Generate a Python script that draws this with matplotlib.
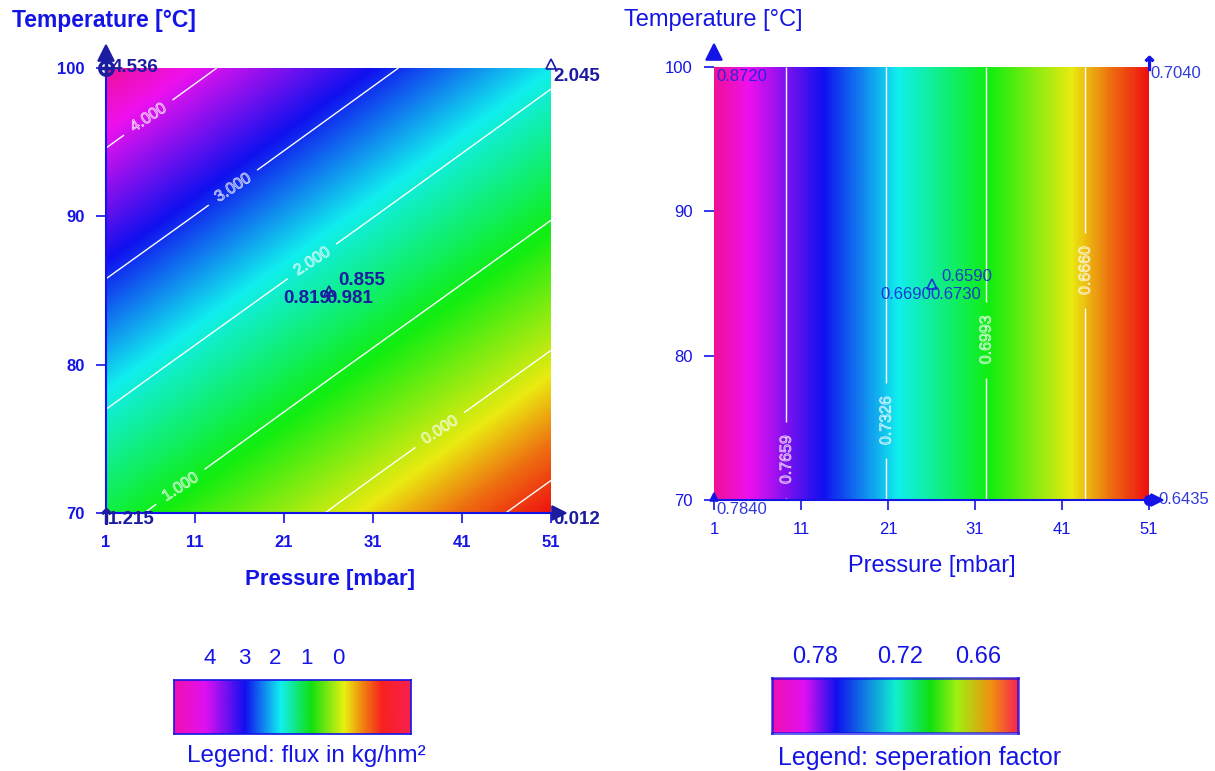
import numpy as np
import matplotlib
matplotlib.use("Agg")
import matplotlib.pyplot as plt
import matplotlib.patheffects as pe
import matplotlib.transforms as mtransforms
from matplotlib.colors import LinearSegmentedColormap

plt.rcParams['font.family'] = ['Liberation Sans', 'DejaVu Sans']

#%% data
pressure = [1, 11, 21, 31, 41, 51]      # mbar
temperature = [70, 80, 90, 100]         # °C

# model surface of the flux (kg/hm²), rows = temperature, cols = pressure
flux = np.array([
    [1.21, 0.72, 0.23, -0.27, -0.76, -1.25],
    [2.34, 1.85, 1.36, 0.87, 0.38, -0.11],
    [3.48, 2.99, 2.50, 2.01, 1.52, 1.03],
    [4.61, 4.12, 3.63, 3.14, 2.65, 2.16],
])
flux_levels = [-1, 0, 1, 2, 3, 4]

# separation factor only changes with pressure
sep_row = [0.790, 0.761, 0.732, 0.703, 0.674, 0.644]
sep = np.array([sep_row] * len(temperature))
sep_levels = [0.6660, 0.6993, 0.7326, 0.7659]

# measured points: corners + centre point
pts_P = [1, 51, 1, 51, 26, 26, 26]
pts_T = [100, 100, 70, 70, 85, 85, 85]
flux_pts = ['4.536', '2.045', '1.215', '0.012', '0.855', '0.819', '0.981']
sep_pts = ['0.8720', '0.7040', '0.7840', '0.6435', '0.6590', '0.6690', '0.6730']

flux_legend_ticks = ['4', '3', '2', '1', '0']
sep_legend_ticks = ['0.78', '0.72', '0.66']

#%% colours
BLUE = '#1414e6'
NAVY = '#1c1ca0'
cmap = LinearSegmentedColormap.from_list('rb', [
    (0.00, '#ee1111'), (0.09, '#ee7010'), (0.18, '#eaea10'), (0.37, '#10ee10'),
    (0.58, '#10eeee'), (0.75, '#1010ee'), (0.92, '#ee10ee'), (1.00, '#ee1099')])
leg_cmap_flux = LinearSegmentedColormap.from_list('lf', [
    (0.00, '#f010b0'), (0.13, '#e010f0'), (0.30, '#1010f0'), (0.45, '#10f0f0'),
    (0.58, '#10e010'), (0.72, '#e8f010'), (0.80, '#f08010'), (0.88, '#f82020'),
    (1.00, '#f82050')])
leg_cmap_sep = LinearSegmentedColormap.from_list('ls', [
    (0.00, '#f010b0'), (0.13, '#e010f0'), (0.26, '#1010f0'), (0.50, '#10f0d0'),
    (0.64, '#10e010'), (0.75, '#a0f010'), (0.89, '#f09010'), (1.00, '#f82050')])

W, H = 1215, 771
fig = plt.figure(figsize=(W / 100, H / 100), dpi=100)

def px_axes(x0, y0, x1, y1):
    return fig.add_axes([x0 / W, 1 - y1 / H, (x1 - x0) / W, (y1 - y0) / H])

def field(ax, z, levels, fmt, label_pos, bold, label_rot=None):
    ext = [pressure[0] - 5, pressure[-1] + 5, temperature[0] - 5, temperature[-1] + 5]
    ax.imshow(z, origin='lower', extent=ext, aspect='auto', cmap=cmap,
              interpolation='bilinear', interpolation_stage='data')
    cs = ax.contour(pressure, temperature, z, levels=levels, colors='white',
                    linewidths=1, linestyles='solid')
    lbls = ax.clabel(cs, fmt=fmt, manual=label_pos, inline=True, inline_spacing=4, fontsize=11.5)
    for t in lbls:
        t.set_color((1, 1, 1, 0.1))
        t.set_path_effects([pe.withStroke(linewidth=0.6, foreground=(1, 1, 1, 0.8))])
        if label_rot is not None:
            t.set_rotation(label_rot)
    ax.set_xlim(pressure[0], pressure[-1])
    ax.set_ylim(temperature[0], temperature[-1])
    ax.set_xticks(pressure)
    ax.set_yticks(temperature)
    for s in ['top', 'right']:
        ax.spines[s].set_visible(False)
    for s in ['left', 'bottom']:
        ax.spines[s].set_color(BLUE)
        ax.spines[s].set_linewidth(1.5)
    ax.tick_params(direction='out', length=7, width=1.2, color=BLUE, labelcolor=BLUE,
                   labelsize=12, pad=8.5)
    if bold:
        for t in ax.get_xticklabels() + ax.get_yticklabels():
            t.set_fontweight('bold')

def mark(ax, P, T, marker, ms, dx=0, dy=0, filled=True, color=NAVY):
    shift = mtransforms.ScaledTranslation(dx / 72, dy / 72, fig.dpi_scale_trans)
    ax.plot([P], [T], marker=marker, ms=ms, color=color, mfc=color if filled else 'none',
            mew=1.2, clip_on=False, zorder=5, transform=ax.transData + shift)

def annotate_pts(ax, texts, offsets, **kw):
    for P, T, s, (dx, dy, ha) in zip(pts_P, pts_T, texts, offsets):
        ax.annotate(s, xy=(P, T), xytext=(dx, dy), textcoords='offset points',
                    ha=ha, va='center', annotation_clip=False, zorder=6, **kw)

#%% left: flux
ax1 = px_axes(106, 68, 551, 513)
field(ax1, flux, flux_levels, '%.3f',
      [(5.9, 96.5), (15.1, 92.1), (24.2, 86.9), (9.6, 71.5), (38.5, 75.6)], True)
mark(ax1, 1, 100, '^', 11, dy=11)
mark(ax1, 1, 100, r'$\oplus$', 11)
mark(ax1, 51, 100, '^', 7, dy=3, filled=False)
mark(ax1, 1, 70, r'$\uparrow$', 11, dy=-2)
mark(ax1, 51, 70, '>', 10, dx=6)
mark(ax1, 26, 85, '^', 7, filled=False)
annotate_pts(ax1, flux_pts,
             [(4, 0, 'left'), (1.5, -6, 'left'), (1.5, -5, 'left'), (1.5, -5, 'left'),
              (7, 7, 'left'), (1.5, -6, 'right'), (-1.5, -6, 'left')],
             fontsize=13.5, fontweight='bold', color=NAVY)

fig.text(12 / W, 1 - 20 / H, 'Temperature [°C]', color=BLUE, fontsize=16.5,
         fontweight='bold', ha='left', va='center')
fig.text(330 / W, 1 - 580 / H, 'Pressure [mbar]', color=BLUE, fontsize=16,
         fontweight='bold', ha='center', va='center')

#%% right: separation factor
ax2 = px_axes(714, 67, 1149, 500)
field(ax2, sep, sep_levels, '%.4f',
      [(9.4, 72.8), (20.8, 75.5), (32.2, 81.1), (43.4, 85.9)], False, label_rot=90)
ax2.spines['left'].set_visible(False)
SEPC = (0.1, 0.15, 0.85, 0.9)
mark(ax2, 1, 100, '^', 11, dy=11, color=BLUE)
mark(ax2, 51, 100, r'$\uparrow$', 10, dy=3, color=BLUE)
mark(ax2, 1, 70, '^', 6, dy=2, color=BLUE)
mark(ax2, 51, 70, 'o', 7, color=BLUE)
mark(ax2, 51, 70, '>', 9, dx=6, color=BLUE)
mark(ax2, 26, 85, '^', 7, filled=False, color=SEPC)
annotate_pts(ax2, sep_pts,
             [(1.5, -6.5, 'left'), (1, -5, 'left'), (2, -6.5, 'left'), (6.5, 0, 'left'),
              (7, 5, 'left'), (0, -8, 'right'), (-0.7, -8, 'left')],
             fontsize=12, color=SEPC)

fig.text(624 / W, 1 - 20 / H, 'Temperature [°C]', color=BLUE, fontsize=17,
         ha='left', va='center')
fig.text(932 / W, 1 - 566 / H, 'Pressure [mbar]', color=BLUE, fontsize=17,
         ha='center', va='center')

#%% legends
grad = np.linspace(0, 1, 256)[None, :]

lg1 = px_axes(174, 680, 411, 734)
lg1.imshow(grad, aspect='auto', cmap=leg_cmap_flux)
lg1.set_xticks([]); lg1.set_yticks([])
for s in lg1.spines.values():
    s.set_color(BLUE); s.set_linewidth(1.2)
for x, s in zip([210, 244, 275, 307, 338], flux_legend_ticks):
    fig.text(x / W, 1 - 659 / H, s, color=BLUE, fontsize=16, ha='center', va='center')
fig.text(187 / W, 1 - 756 / H, 'Legend: flux in kg/hm²', color=BLUE, fontsize=17.5,
         ha='left', va='center')

lg2 = px_axes(772, 678, 1018, 733)
lg2.imshow(grad, aspect='auto', cmap=leg_cmap_sep)
lg2.set_xticks([]); lg2.set_yticks([])
for s in lg2.spines.values():
    s.set_color(BLUE); s.set_linewidth(2); s.set_alpha(0.7)
for x, s in zip([815, 900, 978], sep_legend_ticks):
    fig.text(x / W, 1 - 657 / H, s, color=BLUE, fontsize=17, ha='center', va='center')
fig.text(778 / W, 1 - 758 / H, 'Legend: seperation factor', color=BLUE, fontsize=18,
         ha='left', va='center')

fig.savefig('out.png', dpi=100)
